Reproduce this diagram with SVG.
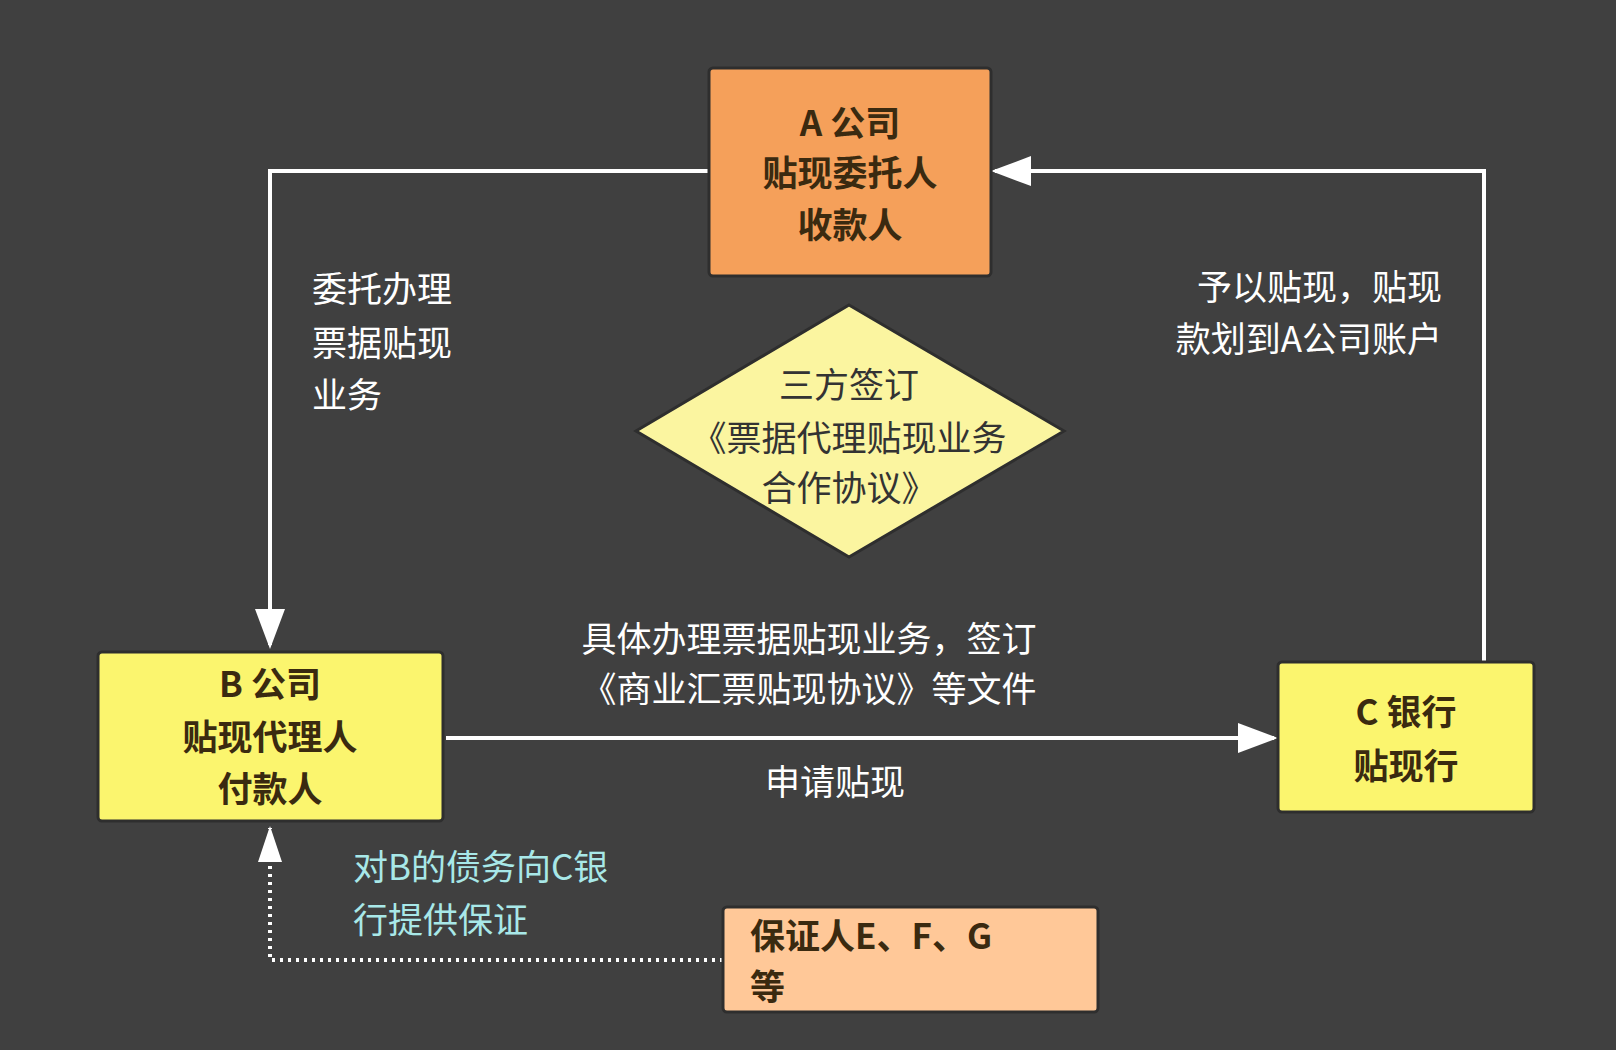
<svg xmlns="http://www.w3.org/2000/svg" width="1616" height="1050" viewBox="0 0 1616 1050">
<defs>
<style>
text{font-family:"Noto Sans CJK SC","Liberation Sans",sans-serif;dominant-baseline:central}
.nb{font-size:35px;font-weight:bold;fill:#3a2a10;text-anchor:middle}
.w{font-size:35px;fill:#ffffff}
.ln{stroke:#ffffff;stroke-width:4;fill:none}
</style>
<marker id="ah" markerWidth="10" markerHeight="10" refX="9" refY="5" orient="auto" markerUnits="userSpaceOnUse" viewBox="0 0 10 10">
<path d="M0,0 L10,5 L0,10 z" fill="#fff"/>
</marker>
<marker id="ahb" viewBox="0 0 10 10" refX="9" refY="5" markerWidth="40" markerHeight="30" orient="auto" markerUnits="userSpaceOnUse" preserveAspectRatio="none">
<path d="M0,0 L10,5 L0,10 z" fill="#fff"/>
</marker>
</defs>
<rect width="1616" height="1050" fill="#404040"/>
<g id="connectors">
<path class="ln" d="M709,171 H270 V645" marker-end="url(#ahb)"/>
<path class="ln" d="M1484,662 V171 H995" marker-end="url(#ahb)"/>
<path class="ln" d="M446,738 H1274" marker-end="url(#ahb)"/>
<path d="M723,960 H270 V828" stroke="#fff" stroke-width="4" stroke-dasharray="3,5" fill="none"/>
<path d="M258,862 L270,826 L282,862 z" fill="#fff"/>
</g>
<g id="nodeA">
<rect x="709" y="68" width="282" height="208" rx="4" fill="#F5A05A" stroke="#2e2e2e" stroke-width="3"/>
<text class="nb" x="850" y="120">A  公司</text>
<text class="nb" x="850" y="170">贴现委托人</text>
<text class="nb" x="850" y="222">收款人</text>
</g>
<g id="nodeB">
<rect x="98" y="652" width="345" height="169" rx="4" fill="#FBF56E" stroke="#2e2e2e" stroke-width="3"/>
<text class="nb" x="270" y="681">B  公司</text>
<text class="nb" x="270" y="734">贴现代理人</text>
<text class="nb" x="270" y="786">付款人</text>
</g>
<g id="nodeC">
<rect x="1278" y="662" width="256" height="150" rx="4" fill="#FBF56E" stroke="#2e2e2e" stroke-width="3"/>
<text class="nb" x="1406" y="709">C  银行</text>
<text class="nb" x="1406" y="763">贴现行</text>
</g>
<g id="nodeG">
<rect x="723" y="907" width="375" height="105" rx="4" fill="#FFC898" stroke="#2e2e2e" stroke-width="3"/>
<text class="nb" x="750" y="933" style="text-anchor:start">保证人E、F、G</text>
<text class="nb" x="750" y="984" style="text-anchor:start">等</text>
</g>
<g id="agreement">
<polygon points="849,305 1064,431 849,557 636,431" fill="#FBF5A0" stroke="#2e2e2e" stroke-width="3"/>
<text x="849" y="382" style="font-size:35px;fill:#333;text-anchor:middle">三方签订</text>
<text x="849" y="435" style="font-size:35px;fill:#333;text-anchor:middle">《票据代理贴现业务</text>
<text x="849" y="485" style="font-size:35px;fill:#333;text-anchor:middle">合作协议》</text>
</g>
<g id="labels">
<text class="w" x="312" y="286">委托办理</text>
<text class="w" x="312" y="340">票据贴现</text>
<text class="w" x="312" y="392">业务</text>
<text class="w" x="1442" y="284" style="text-anchor:end">予以贴现，贴现</text>
<text class="w" x="1442" y="336" style="text-anchor:end">款划到A公司账户</text>
<text class="w" x="809" y="636" style="text-anchor:middle">具体办理票据贴现业务，签订</text>
<text class="w" x="809" y="686" style="text-anchor:middle">《商业汇票贴现协议》等文件</text>
<text class="w" x="835" y="779" style="text-anchor:middle">申请贴现</text>
<text x="353" y="864" style="font-size:35px;fill:#A8E8E8">对B的债务向C银</text>
<text x="353" y="917" style="font-size:35px;fill:#A8E8E8">行提供保证</text>
</g>
</svg>
